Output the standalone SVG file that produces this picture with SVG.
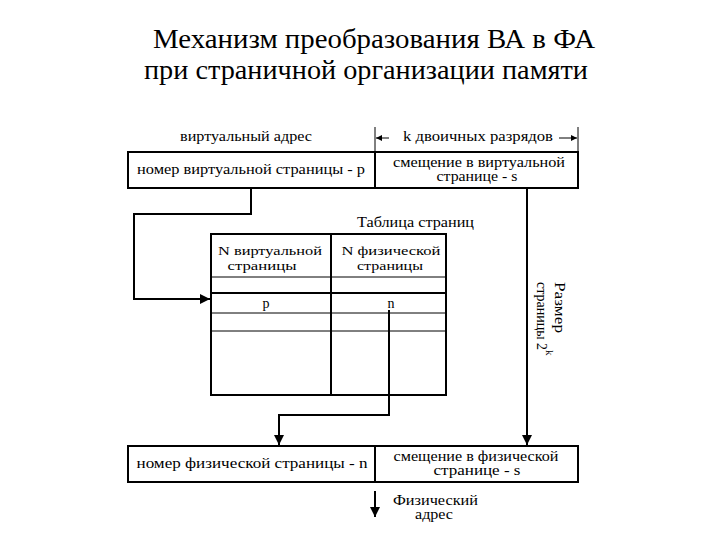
<svg xmlns="http://www.w3.org/2000/svg" width="720" height="540" viewBox="0 0 720 540">
<defs>
<style>
.t{font-size:28px}
.s{font-size:14px}
.h{font-size:13px}
.c{text-anchor:middle}
.b{fill:#fff;stroke:#000;stroke-width:2}
.l{fill:none;stroke:#000;stroke-width:2}
.th{fill:none;stroke:#000;stroke-width:1}
</style>
<marker id="ah" viewBox="0 0 10 10" refX="10" refY="5" markerWidth="5" markerHeight="5" orient="auto" markerUnits="strokeWidth">
<path d="M0,0 L10,5 L0,10 z" fill="#000"/>
</marker>
<marker id="as" viewBox="0 0 10 10" refX="10" refY="5" markerWidth="8" markerHeight="6" orient="auto" markerUnits="strokeWidth">
<path d="M0,0 L10,5 L0,10 z" fill="#000"/>
</marker>
</defs>
<rect width="720" height="540" fill="#fff"/>
<g font-family="'Liberation Serif', 'DejaVu Serif', serif" fill="#000">
<g id="title">
<text class="t" x="153" y="48" textLength="442" lengthAdjust="spacingAndGlyphs">Механизм преобразования ВА в ФА</text>
<text class="t" x="144" y="79" textLength="444" lengthAdjust="spacingAndGlyphs">при страничной организации памяти</text>
</g>
<g id="virtual-address">
<text class="s c" x="246" y="141" textLength="132" lengthAdjust="spacingAndGlyphs">виртуальный адрес</text>
<line class="th" x1="375" y1="127" x2="375" y2="152"/>
<line class="th" x1="578" y1="127" x2="578" y2="152"/>
<text class="s" x="403" y="141" textLength="150" lengthAdjust="spacingAndGlyphs">k двоичных разрядов</text>
<rect class="b" x="128" y="152" width="450" height="36"/>
<line class="l" x1="375" y1="152" x2="375" y2="188"/>
<text class="s c" x="251" y="174" textLength="228" lengthAdjust="spacingAndGlyphs">номер виртуальной страницы - p</text>
<text class="s c" x="479" y="167" textLength="172" lengthAdjust="spacingAndGlyphs">смещение в виртуальной</text>
<text class="s c" x="477" y="181" textLength="81" lengthAdjust="spacingAndGlyphs">странице - s</text>
</g>
<g id="page-table">
<text class="s" x="357" y="227" textLength="117" lengthAdjust="spacingAndGlyphs">Таблица страниц</text>
<rect class="b" x="211" y="234" width="235" height="161"/>
<line class="l" x1="331" y1="234" x2="331" y2="395"/>
<line class="th" x1="211" y1="277" x2="446" y2="277"/>
<line class="l" x1="211" y1="293" x2="446" y2="293"/>
<line class="th" x1="211" y1="313" x2="446" y2="313"/>
<line class="th" x1="211" y1="331" x2="446" y2="331"/>
<text class="h c" x="270" y="255" textLength="104" lengthAdjust="spacingAndGlyphs">N виртуальной</text>
<text class="h c" x="262" y="270" textLength="69" lengthAdjust="spacingAndGlyphs">страницы</text>
<text class="h c" x="391" y="255" textLength="99" lengthAdjust="spacingAndGlyphs">N физической</text>
<text class="h c" x="390" y="270" textLength="66" lengthAdjust="spacingAndGlyphs">страницы</text>
<text class="s c" x="266" y="308">p</text>
<text class="s c" x="391" y="308">n</text>
</g>
<g id="physical-address">
<rect class="b" x="128" y="446" width="450" height="36"/>
<line class="l" x1="375" y1="446" x2="375" y2="482"/>
<text class="s c" x="252" y="468" textLength="231" lengthAdjust="spacingAndGlyphs">номер физической страницы - n</text>
<text class="s c" x="476" y="461" textLength="165" lengthAdjust="spacingAndGlyphs">смещение в физической</text>
<text class="s c" x="477" y="475" textLength="87" lengthAdjust="spacingAndGlyphs">странице - s</text>
<text class="s" x="393" y="505" textLength="85" lengthAdjust="spacingAndGlyphs">Физический</text>
<text class="s" x="415" y="519" textLength="38" lengthAdjust="spacingAndGlyphs">адрес</text>
</g>
<g id="page-size">
<text class="s" transform="translate(555,282) rotate(90)" textLength="51" lengthAdjust="spacingAndGlyphs">Размер</text>
<text class="s" transform="translate(537,282) rotate(90)">страницы 2<tspan dy="-9" font-size="11">k</tspan></text>
</g>
</g>
<g id="connectors">
<line class="th" x1="389" y1="138" x2="376" y2="138" marker-end="url(#as)"/>
<line class="th" x1="559" y1="138" x2="577" y2="138" marker-end="url(#as)"/>
<polyline class="l" points="251,188 251,214 134,214 134,299 210,299" marker-end="url(#ah)"/>
<polyline class="l" points="389,310 389,415 279,415 279,445" marker-end="url(#ah)"/>
<line class="l" x1="527" y1="188" x2="527" y2="445" marker-end="url(#ah)"/>
<line class="l" x1="375" y1="491" x2="375" y2="517" marker-end="url(#ah)"/>
</g>
</svg>
